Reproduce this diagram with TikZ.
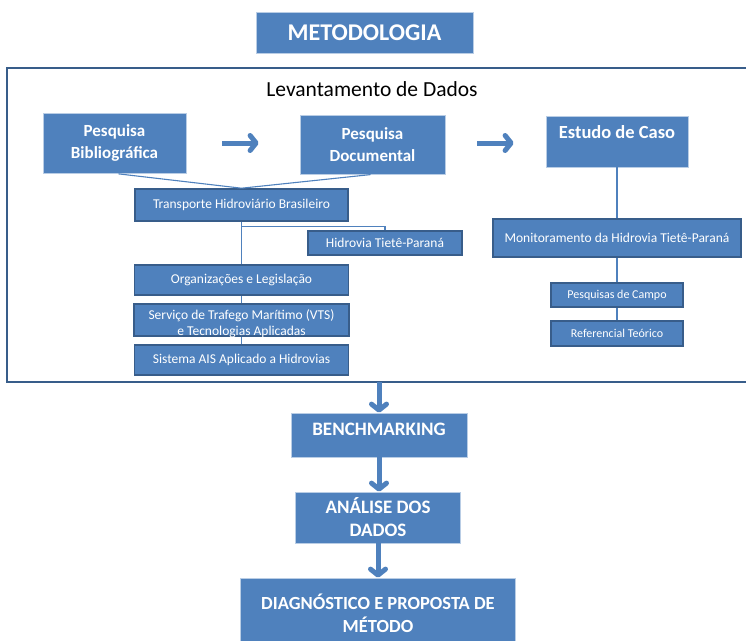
\documentclass[tikz,border=0pt]{standalone}
\usepackage{fontspec}
\setmainfont{Carlito}
\usetikzlibrary{positioning, arrows.meta}

\definecolor{boxblue}{HTML}{4F81BD}
\definecolor{edgeblue}{HTML}{385D8A}
\definecolor{paleblue}{HTML}{B9CDE5}

\tikzset{
  bigbox/.style={rectangle, fill=boxblue, draw=paleblue, line width=0.8pt,
    text=white, font=\bfseries\fontsize{17}{22}\selectfont, align=center, inner sep=0pt},
  smallbox/.style={rectangle, fill=boxblue, draw=edgeblue, line width=1.6pt,
    text=white, font=\fontsize{13.5}{16}\selectfont, align=center, inner sep=0pt},
  link/.style={draw=boxblue, line width=1.1pt},
  fatarrow/.style={draw=boxblue, line width=5pt,
    -{Straight Barb[length=6pt, width=15pt, round]}}
}

\begin{document}
\begin{tikzpicture}[x=1pt, y=-1pt]

\clip (0,0) rectangle (746,640);

% title
\node[bigbox, font=\bfseries\fontsize{24}{28}\selectfont,
  minimum width=217pt, minimum height=41pt] (metodo) at (364.5,32.5) {METODOLOGIA};

% frame of the data survey
\draw[edgeblue, line width=2.2pt] (750,68) -| (7,382) -- (750,382);
\node[font=\fontsize{21.5}{25}\selectfont] (levant) at (372,89) {Levantamento de Dados};
\coordinate (levbot) at (379,382);

% top row
\node[bigbox, minimum width=143pt, minimum height=60pt] (biblio) at (114.5,143) {Pesquisa\\Bibliográfica};
\node[bigbox, minimum width=145pt, minimum height=59pt] (docum) at (372.5,144.5) {Pesquisa\\Documental};
\node[bigbox, font=\bfseries\fontsize{18.5}{22}\selectfont, minimum width=142pt, minimum height=51pt,
  text height=12pt, text depth=18pt] (estudo) at (617,141.5) {Estudo de Caso};

% left column
\node[smallbox, minimum width=213pt, minimum height=32pt] (transp) at (241.5,205) {Transporte Hidroviário Brasileiro};
\node[smallbox, minimum width=154pt, minimum height=24pt] (hidro) at (385,243) {Hidrovia Tietê-Paraná};
\node[smallbox, minimum width=214pt, minimum height=30pt, below=42.4pt of transp] (org) {Organizações e Legislação};
\node[smallbox, minimum width=215pt, minimum height=32pt, text height=31pt, text depth=0pt,
  below=7.4pt of org] (vts) {Serviço de Trafego Marítimo (VTS)\\e Tecnologias Aplicadas};
\node[smallbox, minimum width=214pt, minimum height=30pt, below=7.4pt of vts] (ais) {Sistema AIS Aplicado a Hidrovias};

% right column
\node[smallbox, minimum width=248pt, minimum height=38pt, below=50.8pt of estudo] (monit) {Monitoramento da Hidrovia Tietê-Paraná};
\node[smallbox, font=\fontsize{12}{14}\selectfont, minimum width=132pt, minimum height=24pt,
  below=24.4pt of monit] (campo) {Pesquisas de Campo};
\node[smallbox, font=\fontsize{12}{14}\selectfont, minimum width=132pt, minimum height=25pt,
  below=12.4pt of campo] (teorico) {Referencial Teórico};

% bottom column
\node[bigbox, font=\bfseries\fontsize{19}{23}\selectfont, minimum width=176pt, minimum height=44pt,
  text height=11pt, text depth=11pt] (bench) at (379,435) {BENCHMARKING};
\node[bigbox, font=\bfseries\fontsize{19}{23}\selectfont, minimum width=165pt, minimum height=51pt]
  (analise) at (378,517.5) {ANÁLISE DOS\\DADOS};
\node[bigbox, font=\bfseries\fontsize{18.5}{23}\selectfont, minimum width=275pt, minimum height=70pt]
  (diag) at (378,613) {DIAGNÓSTICO E PROPOSTA DE\\MÉTODO};

% links
\draw[link, shorten <=4pt] (biblio.south) -- (transp.north);
\draw[link, shorten <=2pt] (docum.south) -- (transp.north);
\draw[link] (transp) -- (org);
\draw[link] ([yshift=-5pt]transp.south) -| (hidro.north);
\draw[link] (org) -- (vts);
\draw[link] (vts) -- (ais);
\draw[link] (estudo) -- (monit);
\draw[link] (monit) -- (campo);
\draw[link] (campo) -- (teorico);

% arrows
\draw[fatarrow, shorten <=36pt, shorten >=41pt] (biblio.east |- 0,143) -- (docum.west |- 0,143);
\draw[fatarrow, shorten <=32pt, shorten >=32pt] (docum.east |- 0,143) -- (estudo.west |- 0,143);
\draw[fatarrow] (levbot) -- (bench.north -| levbot);
\draw[fatarrow] (bench) -- (bench |- analise.north);
\draw[fatarrow] (analise) -- (analise |- diag.north);

\end{tikzpicture}
\end{document}
